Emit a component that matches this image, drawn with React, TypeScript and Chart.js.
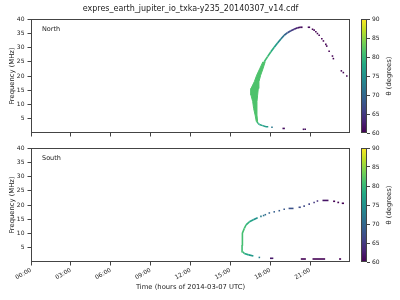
import React, { useEffect, useRef } from 'react';
import { Chart, registerables } from 'chart.js';

Chart.register(...registerables);

const FONT = 'DejaVu Sans';
const TEXT = '#222';
const AXIS = '#444';

const TITLE = 'expres_earth_jupiter_io_txka-y235_20140307_v14.cdf';
const X_TITLE = 'Time (hours of 2014-03-07 UTC)';
const Y_TITLE = 'Frequency (MHz)';
const CB_TITLE = 'θ (degrees)';
const NORTH_LABEL = 'North';
const SOUTH_LABEL = 'South';

const xTickHours = [0, 3, 6, 9, 12, 15, 18, 21];
const yTickValues = [5, 10, 15, 20, 25, 30, 35, 40];
const cbTickValues = [60, 65, 70, 75, 80, 85, 90];

// ---------- North ----------
const northBandFreq = [25, 22.5, 20.3, 18, 15.6, 13.3, 11, 8.6, 6.3, 4];
const northBandStart = [17.45, 17.2, 16.98, 16.8, 16.55, 16.55, 16.68, 16.75, 16.86, 16.95];
const northBandEnd = [17.62, 17.45, 17.28, 17.15, 17.1, 17.05, 17.0, 17.0, 17.0, 17.05];
const northBandTheta = 81.5;

const northUpperTime = [17.55, 17.8, 18.05, 18.3, 18.55, 18.8, 19.05, 19.3, 19.55, 19.8, 20.05, 20.25, 20.43];
const northUpperFreq = [25.0, 26.8, 28.5, 30.1, 31.6, 33.0, 34.3, 35.2, 35.9, 36.4, 36.9, 37.1, 37.1];
const northUpperTheta = [81, 80.5, 79.5, 77.5, 75.5, 73, 70.5, 68, 66, 64, 62, 61, 60.5];

const northTailTime = [17.0, 17.1, 17.18, 17.43, 17.68, 17.85];
const northTailFreq = [4.0, 3.3, 3.0, 2.6, 2.2, 2.2];
const northTailTheta = [80, 79, 78, 77, 76, 76];

const northDashStart = [18.92, 20.82];
const northDashEnd = [19.1, 21.0];
const northDashFreq = [1.6, 37.1];
const northDashTheta = [61, 60.5];

const northDotTime = [18.13, 20.5, 20.63, 21.18, 21.3, 21.43, 21.55, 21.68, 21.88, 22.0, 22.18, 22.25, 22.43, 22.68, 22.75, 23.35, 23.5, 23.76];
const northDotFreq = [2.0, 1.3, 1.3, 36.4, 36.1, 35.5, 34.9, 34.3, 33.1, 32.3, 31.1, 30.5, 28.7, 27.0, 26.1, 21.8, 21.2, 20.0];
const northDotTheta = [72, 61, 61, 60, 60, 60, 60, 60, 60, 60, 60, 60, 60, 60, 60, 60, 60, 60];

// ---------- South ----------
const southLineTime = [16.73, 16.38, 16.05, 15.93, 15.88, 15.88, 15.93, 16.05, 16.18, 16.43, 16.73, 17.05];
const southLineFreq = [2.1, 2.5, 3.0, 3.6, 6.0, 8.3, 10.1, 11.8, 13.0, 14.1, 14.8, 15.5];
const southLineTheta = [75, 77, 79, 80.5, 81, 81, 81, 81, 80, 78.5, 76, 74];

const southDashStart = [19.38, 20.13, 21.93, 22.73, 23.05, 23.38, 17.98, 20.3, 21.18, 23.18];
const southDashEnd = [19.75, 20.3, 22.38, 22.88, 23.18, 23.55, 18.23, 20.68, 22.13, 23.33];
const southDashFreq = [18.8, 19.2, 21.6, 21.3, 20.9, 20.6, 1.3, 1.05, 1.05, 1.05];
const southDashTheta = [67.5, 67, 61.5, 60, 60, 60, 62, 60, 60, 60];

const southDotTime = [17.18, 17.3, 17.5, 17.63, 17.93, 18.3, 18.68, 19.05, 20.55, 20.93, 21.3, 21.55];
const southDotFreq = [1.6, 16.0, 16.3, 16.6, 17.2, 17.6, 18.0, 18.5, 19.6, 20.3, 20.9, 21.4];
const southDotTheta = [73, 72.5, 71.5, 70.5, 69.5, 69, 68.5, 68, 66.5, 66, 65, 64];

// viridis colormap stops
const VIRIDIS = ['#440154', '#482475', '#414487', '#355f8d', '#2a788e', '#21918c', '#22a884', '#44bf70', '#7ad151', '#bddf26', '#fde725'];
const CB_MIN = 60;
const CB_MAX = 90;

function hexToRgb(h: string) {
  return [parseInt(h.slice(1, 3), 16), parseInt(h.slice(3, 5), 16), parseInt(h.slice(5, 7), 16)];
}
function viridis(t: number) {
  const c = Math.max(0, Math.min(1, t)) * (VIRIDIS.length - 1);
  const i = Math.min(Math.floor(c), VIRIDIS.length - 2);
  const f = c - i;
  const a = hexToRgb(VIRIDIS[i]);
  const b = hexToRgb(VIRIDIS[i + 1]);
  const m = a.map((v, k) => Math.round(v + (b[k] - v) * f));
  return `rgb(${m[0]},${m[1]},${m[2]})`;
}
function thetaColor(theta: number) {
  return viridis((theta - CB_MIN) / (CB_MAX - CB_MIN));
}

function bandDataset(freq: number[], start: number[], end: number[], theta: number) {
  const left = start.map((x, i) => ({ x, y: freq[i] }));
  const right = end.map((x, i) => ({ x, y: freq[i] })).reverse();
  const col = thetaColor(theta);
  return {
    data: [...left, ...right],
    showLine: true,
    fill: 'shape',
    backgroundColor: col,
    borderColor: col,
    borderWidth: 1,
    pointRadius: 0,
    tension: 0,
  };
}

function lineDataset(time: number[], freq: number[], theta: number[], width: number) {
  return {
    data: time.map((x, i) => ({ x, y: freq[i] })),
    showLine: true,
    fill: false,
    borderWidth: width,
    borderColor: thetaColor(theta[0]),
    pointRadius: 0,
    tension: 0,
    segment: {
      borderColor: (ctx: any) => thetaColor((theta[ctx.p0DataIndex] + theta[ctx.p1DataIndex]) / 2),
    },
  };
}

function dashDataset(start: number[], end: number[], freq: number[], theta: number[], width: number) {
  const data: any[] = [];
  start.forEach((s, i) => {
    data.push({ x: s, y: freq[i] }, { x: end[i], y: freq[i] }, { x: end[i], y: null });
  });
  return {
    data,
    showLine: true,
    fill: false,
    borderWidth: width,
    borderCapStyle: 'butt',
    borderColor: thetaColor(theta[0]),
    pointRadius: 0,
    spanGaps: false,
    segment: {
      borderColor: (ctx: any) => thetaColor(theta[Math.floor(ctx.p0DataIndex / 3)]),
    },
  };
}

function dotDataset(time: number[], freq: number[], theta: number[]) {
  const cols = theta.map(thetaColor);
  return {
    data: time.map((x, i) => ({ x, y: freq[i] })),
    showLine: false,
    pointStyle: 'rect',
    pointRadius: 1.1,
    pointBorderWidth: 0,
    pointBackgroundColor: cols,
    pointBorderColor: cols,
  };
}

const framePlugin = {
  id: 'frame',
  afterDraw(chart: any) {
    const { ctx, chartArea: a } = chart;
    ctx.save();
    ctx.strokeStyle = AXIS;
    ctx.lineWidth = 1;
    ctx.strokeRect(Math.round(a.left) + 0.5, Math.round(a.top) + 0.5, Math.round(a.right - a.left) - 1, Math.round(a.bottom - a.top) - 1);
    ctx.restore();
  },
};

function panelLabelPlugin(text: string) {
  return {
    id: 'panelLabel',
    afterDraw(chart: any) {
      const { ctx, chartArea: a } = chart;
      ctx.save();
      ctx.fillStyle = TEXT;
      ctx.font = `6.5px "${FONT}"`;
      ctx.textAlign = 'left';
      ctx.textBaseline = 'middle';
      ctx.fillText(text, a.left + 11, a.top + 10);
      ctx.restore();
    },
  };
}

function mainConfig(datasets: any[], label: string, isBottom: boolean, padTop: number, xHeight: number): any {
  return {
    type: 'line',
    data: { datasets },
    plugins: [framePlugin, panelLabelPlugin(label)],
    options: {
      animation: false,
      responsive: false,
      devicePixelRatio: 1,
      events: [],
      layout: { padding: { left: 0, right: 5, top: padTop, bottom: 0 } },
      plugins: {
        legend: { display: false },
        tooltip: { enabled: false },
        title: isBottom
          ? { display: false }
          : {
              display: true,
              text: TITLE,
              fullSize: false,
              color: TEXT,
              font: { family: FONT, size: 8, weight: 'normal' },
              padding: { top: 4.5, bottom: 4.9 },
            },
      },
      scales: {
        x: {
          type: 'linear',
          min: 0,
          max: 24,
          afterBuildTicks: (s: any) => {
            s.ticks = xTickHours.map((v) => ({ value: v }));
          },
          afterFit: (s: any) => {
            s.height = xHeight;
          },
          ticks: {
            display: isBottom,
            color: TEXT,
            font: { family: FONT, size: 6 },
            minRotation: 30,
            maxRotation: 30,
            padding: 1,
            autoSkip: false,
            callback: (v: number) => `${String(v).padStart(2, '0')}:00`,
          },
          grid: { drawOnChartArea: false, drawTicks: true, tickLength: 3.5, color: AXIS },
          border: { display: false },
          title: {
            display: isBottom,
            text: X_TITLE,
            color: TEXT,
            font: { family: FONT, size: 6.8 },
            padding: { top: 0, bottom: 9 },
          },
        },
        y: {
          type: 'linear',
          min: 0,
          max: 40,
          afterBuildTicks: (s: any) => {
            s.ticks = yTickValues.map((v) => ({ value: v }));
          },
          afterFit: (s: any) => {
            s.width = 31;
          },
          ticks: { color: TEXT, font: { family: FONT, size: 6 }, padding: 3 },
          grid: { drawOnChartArea: false, drawTicks: true, tickLength: 3.5, color: AXIS },
          border: { display: false },
          title: {
            display: true,
            text: Y_TITLE,
            color: TEXT,
            font: { family: FONT, size: 6.8 },
            padding: { top: 8, bottom: 0 },
          },
        },
      },
    },
  };
}

const colorbarPlugin = {
  id: 'colorbar',
  afterDatasetsDraw(chart: any) {
    const { ctx, chartArea: a } = chart;
    const ys = chart.scales.y;
    const y0 = ys.getPixelForValue(CB_MIN);
    const y1 = ys.getPixelForValue(CB_MAX);
    const g = ctx.createLinearGradient(0, y0, 0, y1);
    VIRIDIS.forEach((c, i) => g.addColorStop(i / (VIRIDIS.length - 1), c));
    ctx.save();
    ctx.fillStyle = g;
    ctx.fillRect(a.left, y1, a.right - a.left, y0 - y1);
    ctx.strokeStyle = AXIS;
    ctx.lineWidth = 1;
    ctx.strokeRect(Math.round(a.left) + 0.5, Math.round(a.top) + 0.5, Math.round(a.right - a.left) - 1, Math.round(a.bottom - a.top) - 1);
    ctx.fillStyle = TEXT;
    ctx.font = `6.8px "${FONT}"`;
    ctx.textAlign = 'center';
    ctx.textBaseline = 'middle';
    ctx.translate(a.right + 22, (a.top + a.bottom) / 2);
    ctx.rotate(-Math.PI / 2);
    ctx.fillText(CB_TITLE, 0, 0);
    ctx.restore();
  },
};

function colorbarConfig(padTop: number, padBottom: number): any {
  return {
    type: 'line',
    data: { datasets: [] },
    plugins: [colorbarPlugin],
    options: {
      animation: false,
      responsive: false,
      devicePixelRatio: 1,
      events: [],
      layout: { padding: { left: 6, right: 0, top: padTop, bottom: padBottom } },
      plugins: { legend: { display: false }, tooltip: { enabled: false } },
      scales: {
        x: { type: 'linear', display: false, min: 0, max: 1 },
        y: {
          type: 'linear',
          position: 'right',
          min: CB_MIN,
          max: CB_MAX,
          afterBuildTicks: (s: any) => {
            s.ticks = cbTickValues.map((v) => ({ value: v }));
          },
          afterFit: (s: any) => {
            s.width = 33;
          },
          ticks: { color: TEXT, font: { family: FONT, size: 6 }, padding: 2 },
          grid: { drawOnChartArea: false, drawTicks: true, tickLength: 3, color: AXIS },
          border: { display: false },
        },
      },
    },
  };
}

export default function App() {
  const northRef = useRef<HTMLCanvasElement>(null);
  const southRef = useRef<HTMLCanvasElement>(null);
  const cbNorthRef = useRef<HTMLCanvasElement>(null);
  const cbSouthRef = useRef<HTMLCanvasElement>(null);

  useEffect(() => {
    const northSets = [
      bandDataset(northBandFreq, northBandStart, northBandEnd, northBandTheta),
      lineDataset(northUpperTime, northUpperFreq, northUpperTheta, 1.7),
      lineDataset(northTailTime, northTailFreq, northTailTheta, 1.5),
      dashDataset(northDashStart, northDashEnd, northDashFreq, northDashTheta, 1.6),
      dotDataset(northDotTime, northDotFreq, northDotTheta),
    ];
    const southSets = [
      lineDataset(southLineTime, southLineFreq, southLineTheta, 1.6),
      dashDataset(southDashStart, southDashEnd, southDashFreq, southDashTheta, 1.6),
      dotDataset(southDotTime, southDotFreq, southDotTheta),
    ];
    const charts = [
      new Chart(northRef.current as HTMLCanvasElement, mainConfig(northSets, NORTH_LABEL, false, 0, 7)),
      new Chart(southRef.current as HTMLCanvasElement, mainConfig(southSets, SOUTH_LABEL, true, 8, 38)),
      new Chart(cbNorthRef.current as HTMLCanvasElement, colorbarConfig(19, 7)),
      new Chart(cbSouthRef.current as HTMLCanvasElement, colorbarConfig(8, 38)),
    ];
    return () => charts.forEach((c) => c.destroy());
  }, []);

  return (
    <div style={{ position: 'fixed', left: 0, top: 0, width: 400, height: 300, background: '#fff' }}>
      <canvas ref={northRef} width={355} height={140} style={{ position: 'absolute', left: 0, top: 0 }} />
      <canvas ref={southRef} width={355} height={160} style={{ position: 'absolute', left: 0, top: 140 }} />
      <canvas ref={cbNorthRef} width={45} height={140} style={{ position: 'absolute', left: 355, top: 0 }} />
      <canvas ref={cbSouthRef} width={45} height={160} style={{ position: 'absolute', left: 355, top: 140 }} />
    </div>
  );
}
